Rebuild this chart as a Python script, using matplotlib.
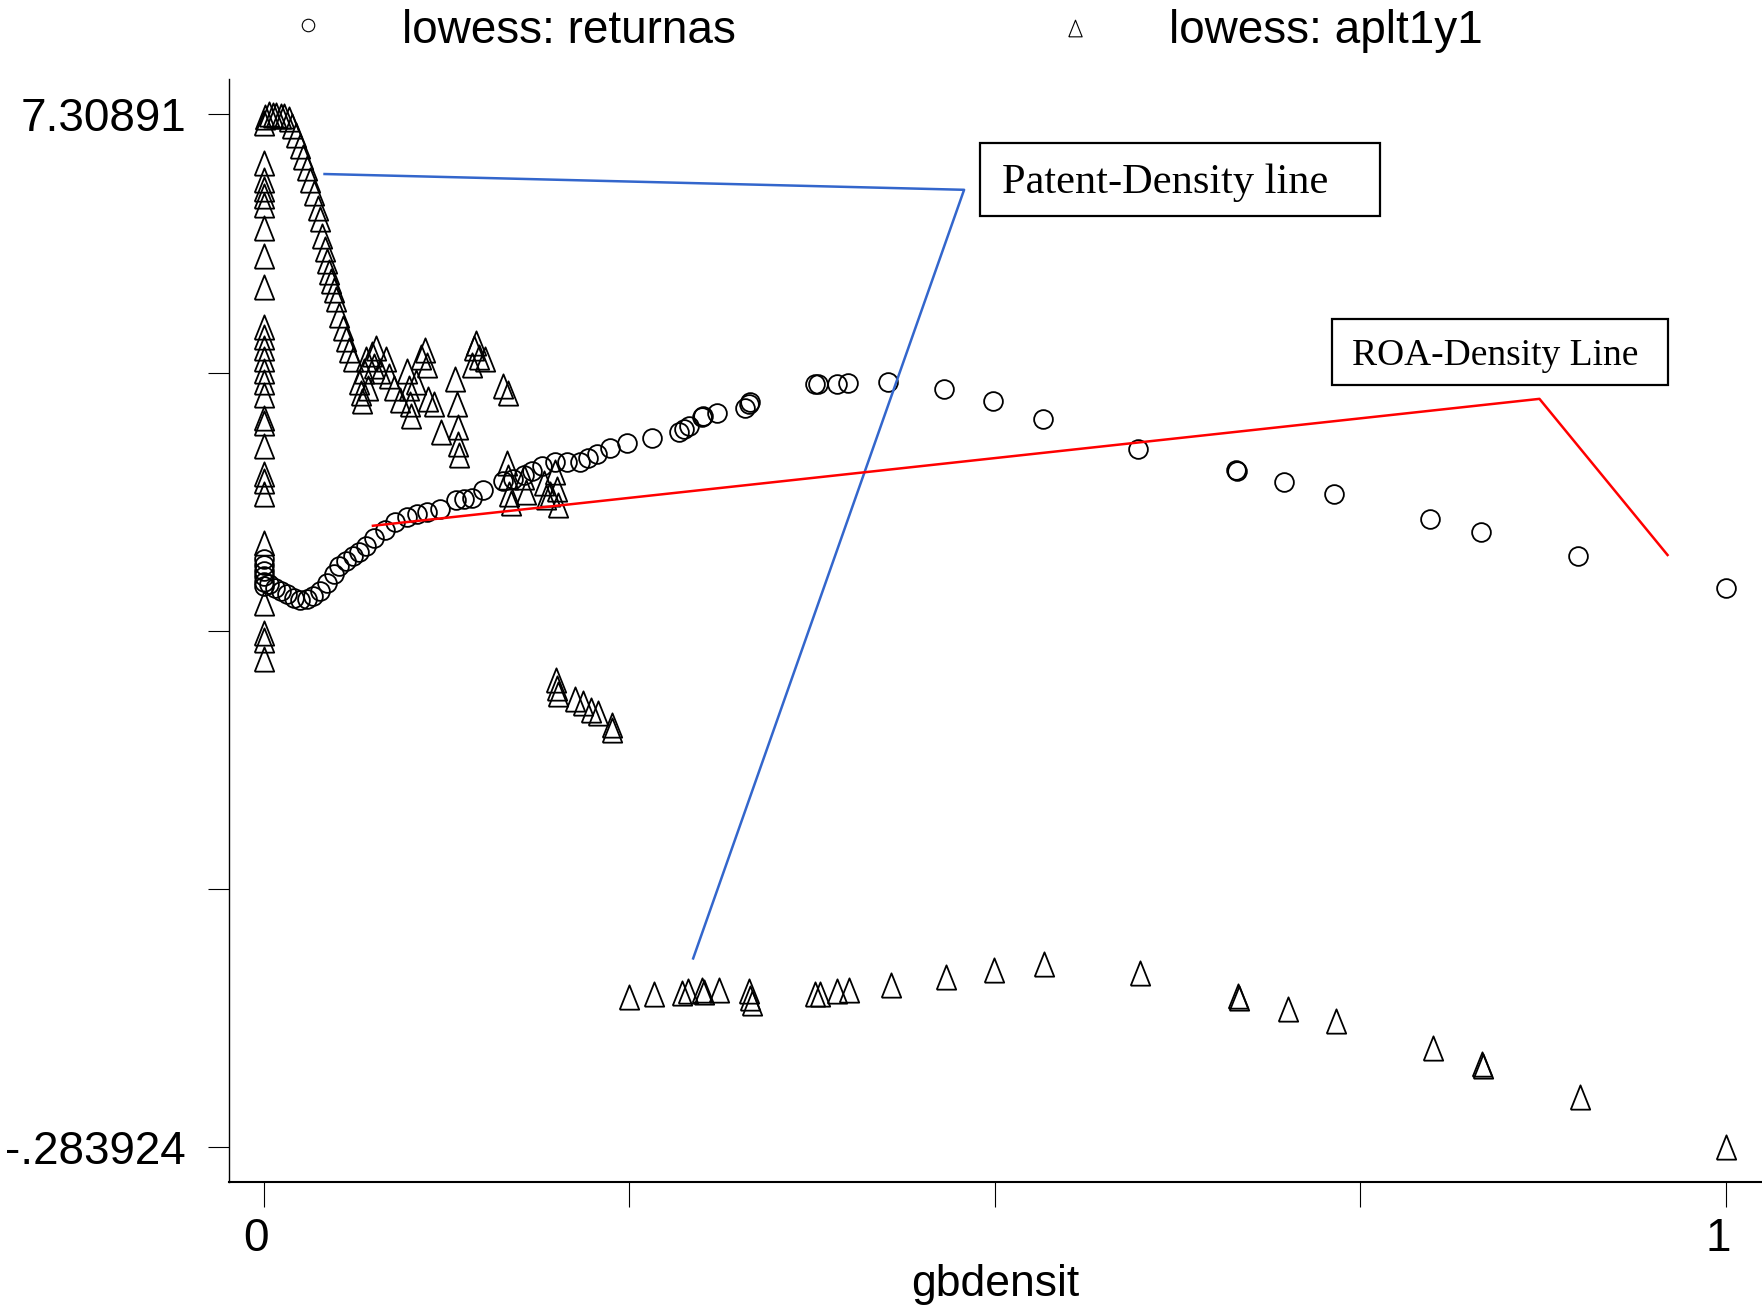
import numpy as np
from matplotlib import pyplot as plt
from matplotlib import rcParams
from matplotlib.lines import Line2D
from matplotlib.patches import Rectangle
from matplotlib.transforms import ScaledTranslation

rcParams['font.family'] = ['Liberation Sans', 'DejaVu Sans']

# lowess: returnas  (circles)
ret_x = [0.0, 0.0, 0.0, 0.0, 0.0, 0.0,
         0.0038, 0.0077, 0.0115, 0.0161, 0.0208, 0.0246, 0.0292, 0.0338, 0.0384, 0.0430,
         0.0477, 0.0515, 0.0561, 0.0607, 0.0653, 0.0699, 0.0753, 0.0830, 0.0899, 0.0976,
         0.1045, 0.1115, 0.1207, 0.1314, 0.1368, 0.1422, 0.1499, 0.1637, 0.1706, 0.1776,
         0.1837, 0.1899, 0.1991, 0.2075, 0.2160, 0.2214, 0.2275, 0.2367, 0.2483, 0.2652,
         0.2836, 0.2875, 0.2905, 0.2998, 0.3005, 0.3098, 0.3290, 0.3321, 0.3328,
         0.3766, 0.3789, 0.3920, 0.3997, 0.4266, 0.4650, 0.4988, 0.5327, 0.5980,
         0.6649, 0.6656, 0.6979, 0.7317, 0.7978, 0.8324, 0.8985, 1.0]
ret_y = [4.037, 3.996, 3.955, 3.913, 3.872, 3.839,
         3.855, 3.831, 3.806, 3.781, 3.756, 3.740, 3.748, 3.765, 3.806, 3.864,
         3.930, 3.988, 4.029, 4.062, 4.095, 4.136, 4.194, 4.252, 4.310, 4.351,
         4.368, 4.384, 4.409, 4.475, 4.483, 4.492, 4.549, 4.616, 4.632, 4.657,
         4.690, 4.723, 4.756, 4.756, 4.756, 4.781, 4.814, 4.855, 4.897, 4.930,
         4.971, 4.996, 5.020, 5.087, 5.095, 5.111, 5.153, 5.177, 5.194,
         5.326, 5.326, 5.326, 5.334, 5.343, 5.293, 5.202, 5.070, 4.847,
         4.698, 4.690, 4.607, 4.516, 4.335, 4.236, 4.062, 3.831]

# lowess: aplt1y1  (triangles)
apl_x = ([0.0] * 27 +
         [0.0008, 0.0038, 0.0061, 0.0085, 0.0115, 0.0138, 0.0169, 0.0192, 0.0223, 0.0246,
          0.0269, 0.0292, 0.0315, 0.0346, 0.0369, 0.0384, 0.0400, 0.0415, 0.0430, 0.0446,
          0.0461, 0.0477, 0.0492, 0.0515, 0.0538, 0.0561, 0.0584, 0.0607] +
         [0.0653, 0.0661, 0.0669, 0.0684, 0.0699, 0.0715, 0.0738, 0.0753, 0.0769, 0.0792,
          0.0838, 0.0853, 0.0892, 0.0930, 0.0976, 0.0992, 0.0999, 0.1007, 0.1038, 0.1076,
          0.1099, 0.1115, 0.1122, 0.1161, 0.1214, 0.1307, 0.1322, 0.1330, 0.1330, 0.1337,
          0.1422, 0.1437, 0.1453, 0.1468, 0.1514, 0.1637, 0.1668] +
         [0.1660, 0.1668, 0.1676, 0.1691, 0.1776, 0.1791, 0.1914, 0.1929, 0.1960, 0.1991,
          0.2006, 0.2014] +
         [0.1998, 0.2006, 0.2014, 0.2129, 0.2183, 0.2237, 0.2283, 0.2383, 0.2383] +
         [0.2498, 0.2667, 0.2859, 0.2898, 0.2998, 0.3013, 0.3113, 0.3321, 0.3328, 0.3336,
          0.3766, 0.3805, 0.3920, 0.4005, 0.4289, 0.4666, 0.4996, 0.5334, 0.5995,
          0.6664, 0.6672, 0.7002, 0.7333, 0.7994, 0.8332, 0.8340, 0.9001, 1.0])
apl_y = ([7.243, 6.954, 6.830, 6.764, 6.706, 6.640, 6.474, 6.268, 6.037, 5.747,
          5.673, 5.590, 5.508, 5.425, 5.343, 5.243, 5.078, 5.037, 4.872, 4.665,
          4.616, 4.517, 4.161, 3.715, 3.500, 3.442, 3.302] +
         [7.292, 7.309, 7.305, 7.308, 7.300, 7.301, 7.276, 7.226, 7.160, 7.078,
          6.995, 6.912, 6.830, 6.731, 6.623, 6.541, 6.417, 6.318, 6.235, 6.152,
          6.086, 6.020, 5.954, 5.838, 5.739, 5.656, 5.574, 5.508] +
         [5.343, 5.260, 5.202, 5.425, 5.508, 5.301, 5.549, 5.458, 5.590, 5.425,
          5.508, 5.384, 5.301, 5.210, 5.425, 5.301, 5.177, 5.095, 5.343, 5.524,
          5.574, 5.466, 5.218, 5.177, 4.971, 5.367, 5.177, 5.012, 4.888, 4.805,
          5.466, 5.590, 5.632, 5.524, 5.508, 5.309, 5.260] +
         [4.748, 4.640, 4.517, 4.450, 4.640, 4.533, 4.599, 4.500, 4.517, 4.682,
          4.558, 4.434] +
         [3.153, 3.095, 3.046, 3.013, 2.980, 2.930, 2.905, 2.823, 2.781] +
         [0.823, 0.840, 0.848, 0.865, 0.873, 0.857, 0.873, 0.865, 0.815, 0.774,
          0.840, 0.840, 0.865, 0.873, 0.906, 0.964, 1.022, 1.063, 0.997,
          0.831, 0.815, 0.732, 0.642, 0.443, 0.328, 0.311, 0.088, -0.283924])

y_ticks = [7.30891, 5.41095, 3.51299, 1.61504, -0.283924]
y_labels = ['7.30891', '', '', '', '-.283924']
x_ticks = [0, 0.25, 0.5, 0.75, 1]
x_labels = ['0', '', '', '', '1']

# hand drawn annotation lines
patent_x = [0.0415, 0.4789, 0.2936]
patent_y = [6.871, 6.755, 1.104]
roa_x = [0.0746, 0.8724, 0.9600]
roa_y = [4.285, 5.218, 4.070]

# stata-like tall triangle
tri = [(-0.8, -1), (0.8, -1), (0, 1), (-0.8, -1)]

fig = plt.figure(figsize=(17.62, 13.09), dpi=100)
ax = fig.add_axes([0.130, 0.097, 0.870, 0.843])

ax.plot(ret_x, ret_y, ls='none', marker='o', ms=13.5, mfc='none', mec='black', mew=1.3)
ax.plot(apl_x, apl_y, ls='none', marker=tri, ms=17.5, mfc='none', mec='black', mew=1.3)

ax.plot(patent_x, patent_y, color='#3366cc', lw=1.8, zorder=5)
ax.plot(roa_x, roa_y, color='#ff0000', lw=1.8, zorder=5)

# text boxes
ax.add_patch(Rectangle((0.4896, 6.565), 0.7633 - 0.4896, 7.102 - 6.565,
                       fc='white', ec='black', lw=1.6, zorder=6))
ax.text(0.6164, 6.81, 'Patent-Density line', family='Liberation Serif', fontsize=30.5,
        ha='center', va='center', zorder=7)
ax.add_patch(Rectangle((0.7302, 5.318), 0.9600 - 0.7302, 5.805 - 5.318,
                       fc='white', ec='black', lw=1.6, zorder=6))
ax.text(0.8424, 5.535, 'ROA-Density Line', family='Liberation Serif', fontsize=27,
        ha='center', va='center', zorder=7)

ax.set_xlim(-0.0238, 1.0246)
ax.set_ylim(-0.540, 7.573)
ax.set_yticks(y_ticks)
ax.set_yticklabels(y_labels)
ax.set_xticks(x_ticks)
ax.set_xticklabels(x_labels)
ax.tick_params(axis='y', length=15, width=0.8, pad=16, labelsize=33)
ax.tick_params(axis='x', length=18, width=0.8, pad=7, labelsize=33)
shift = ScaledTranslation(-8 / 100, 0, fig.dpi_scale_trans)
for lab in ax.get_xticklabels():
    lab.set_transform(lab.get_transform() + shift)
for s in ['top', 'right']:
    ax.spines[s].set_visible(False)
ax.spines['left'].set_linewidth(1.0)
ax.spines['bottom'].set_linewidth(1.5)
ax.set_xlabel('gbdensit', fontsize=32, labelpad=2)

# legend on top, drawn by hand
fig.add_artist(Line2D([0.1748], [0.981], marker='o', ms=9, mfc='none', mec='black',
                      mew=0.8, ls='none', transform=fig.transFigure))
fig.text(0.2283, 0.976, 'lowess: returnas', fontsize=33, va='center', ha='left')
fig.add_artist(Line2D([0.6103], [0.9786], marker=tri, ms=12, mfc='none', mec='black',
                      mew=0.8, ls='none', transform=fig.transFigure))
fig.text(0.6633, 0.976, 'lowess: aplt1y1', fontsize=33, va='center', ha='left')

fig.savefig('out.png', dpi=100)
